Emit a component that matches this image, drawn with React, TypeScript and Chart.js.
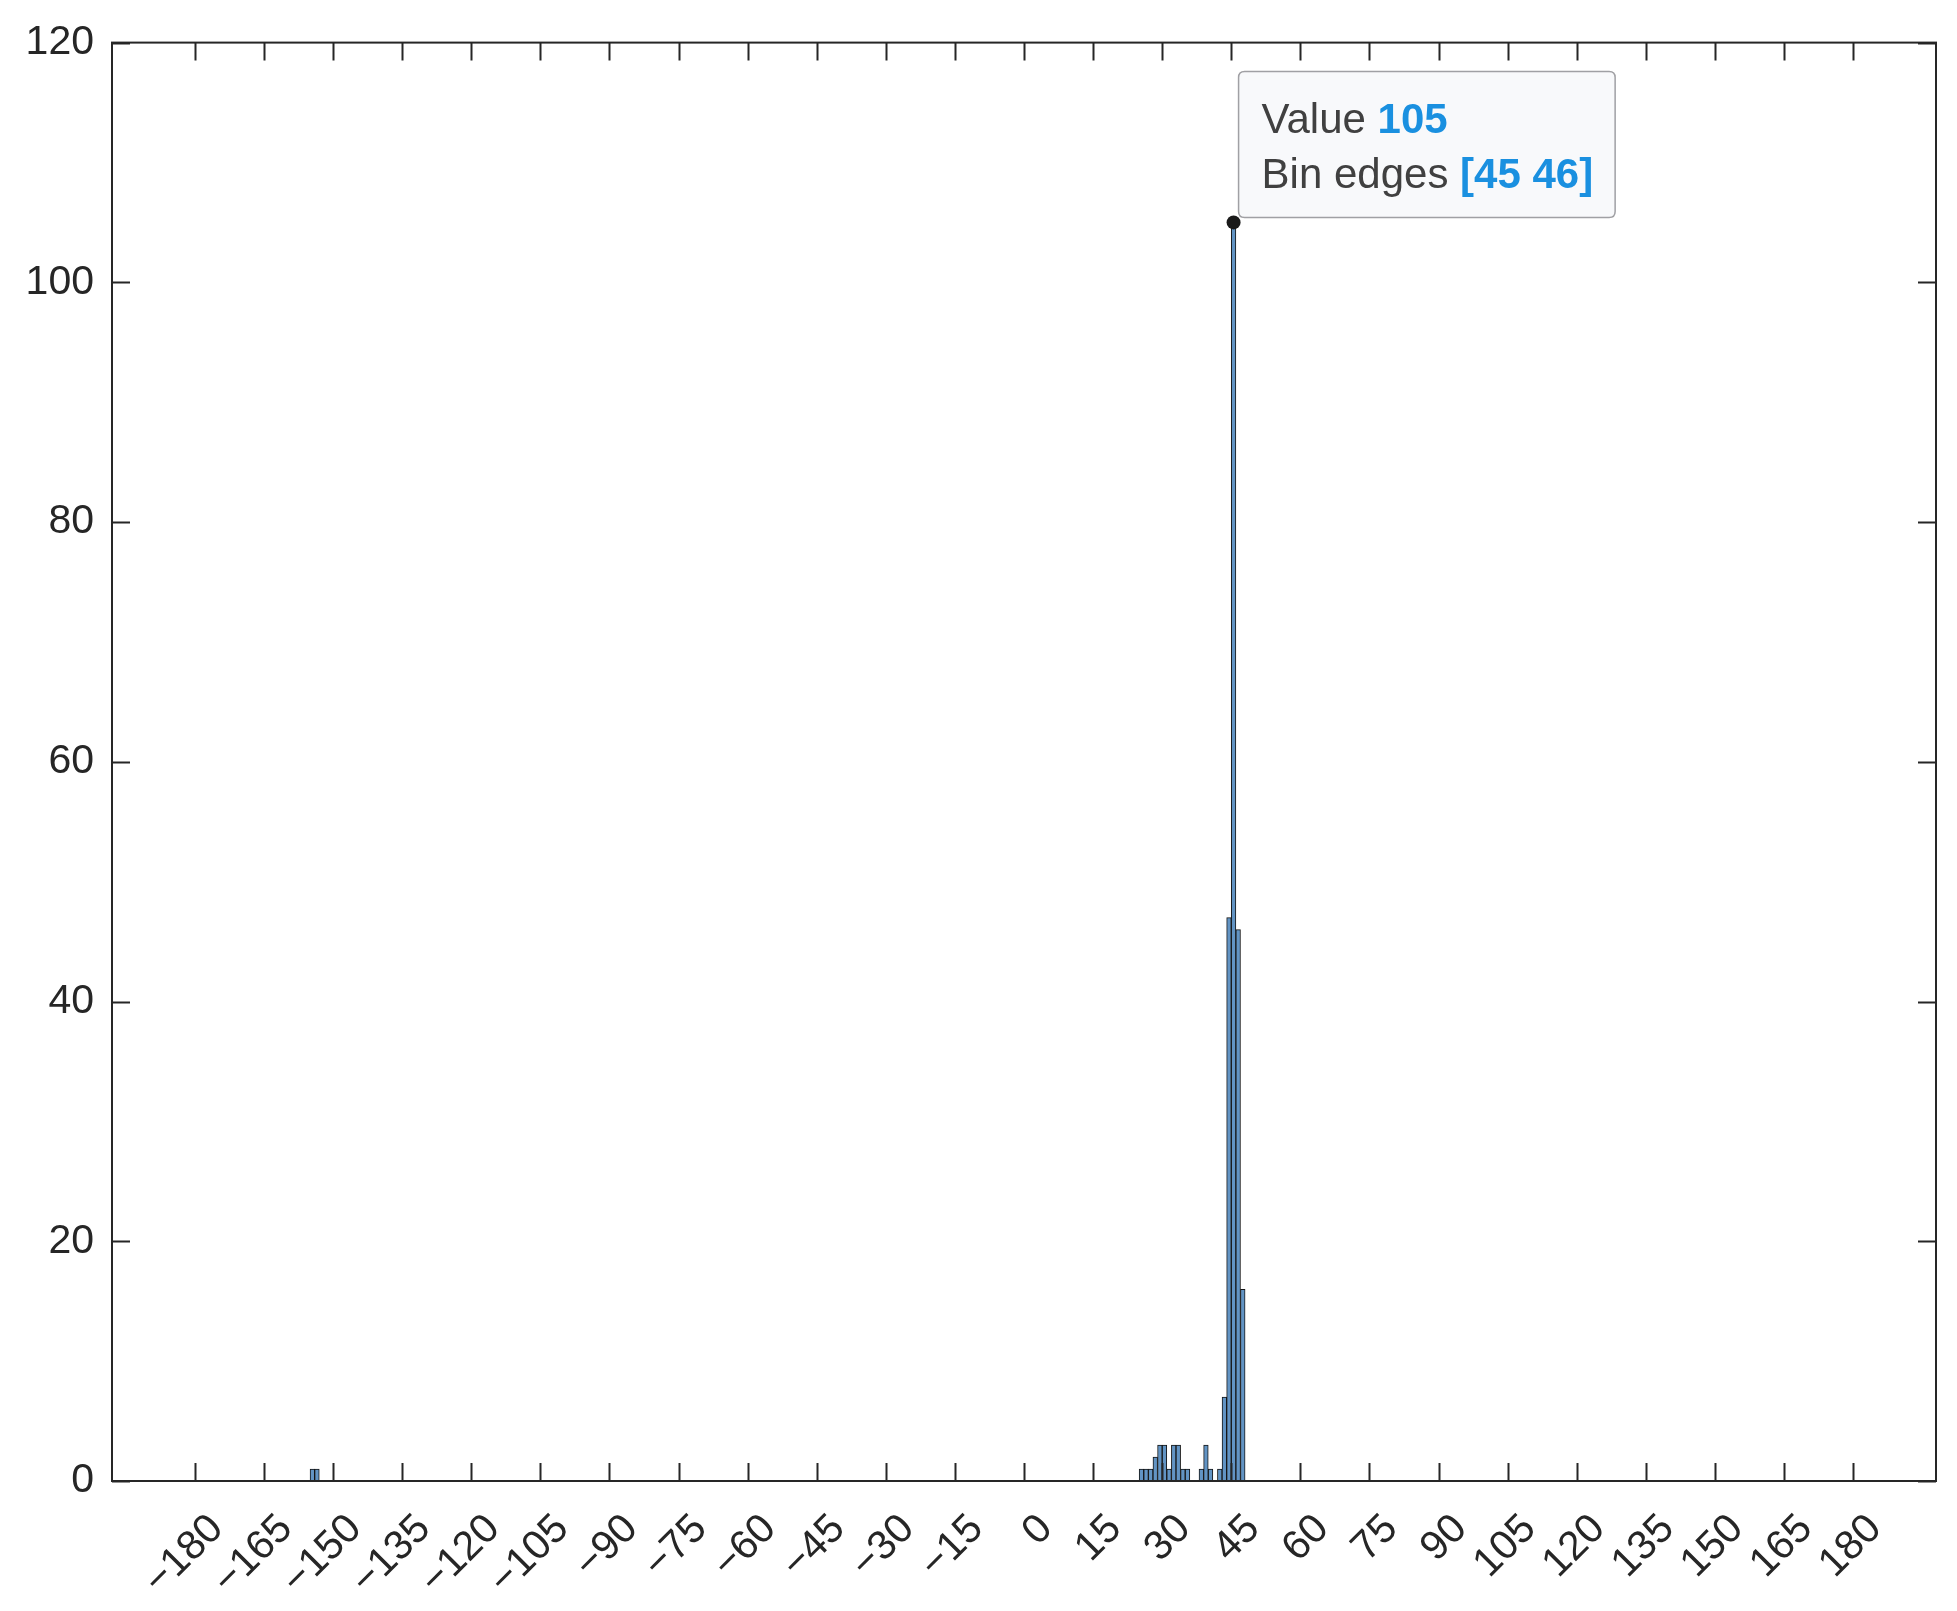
import React, { useEffect, useRef } from "react";
import { Chart, registerables } from "chart.js";

Chart.register(...registerables);

// Histogram bins (lower edge) and their counts (bin width 1)
const binStart = [-155, -154, 25, 26, 27, 28, 29, 30, 31, 32, 33, 34, 35, 38, 39, 40, 42, 43, 44, 45, 46, 47];
const binCount = [1, 1, 1, 1, 1, 2, 3, 3, 1, 3, 3, 1, 1, 1, 3, 1, 1, 7, 47, 105, 46, 16];
const binWidth = 1;

const xTicks = [-180, -165, -150, -135, -120, -105, -90, -75, -60, -45, -30, -15, 0, 15, 30, 45, 60, 75, 90, 105, 120, 135, 150, 165, 180];
const yTicks = [0, 20, 40, 60, 80, 100, 120];
const xRange = [-198, 198];
const yRange = [0, 120];

// Data tip
const tipValue = 105;
const tipEdges = [45, 46];

const FONT = "'Liberation Sans', Arial, Helvetica, sans-serif";
const AXIS_COLOR = "#262626";

const fmt = (v: number) => (v < 0 ? "\u2212" + Math.abs(v) : String(v));

const boxAndTicksPlugin = {
  id: "boxAndTicks",
  afterDraw(chart: any) {
    const { ctx, chartArea } = chart;
    const { left, right, top, bottom } = chartArea;
    const xs = chart.scales.x;
    const ys = chart.scales.y;
    const tl = 18;
    ctx.save();
    ctx.strokeStyle = AXIS_COLOR;
    ctx.lineWidth = 2;
    ctx.beginPath();
    xTicks.forEach((v) => {
      const px = Math.round(xs.getPixelForValue(v)) + 0.5;
      ctx.moveTo(px, bottom);
      ctx.lineTo(px, bottom - tl);
      ctx.moveTo(px, top);
      ctx.lineTo(px, top + tl);
    });
    yTicks.forEach((v) => {
      const py = Math.round(ys.getPixelForValue(v)) + 0.5;
      ctx.moveTo(left, py);
      ctx.lineTo(left + tl, py);
      ctx.moveTo(right, py);
      ctx.lineTo(right - tl, py);
    });
    ctx.stroke();
    ctx.lineWidth = 2;
    ctx.strokeRect(left, top, right - left, bottom - top);
    ctx.restore();
  },
};

const dataTipPlugin = {
  id: "dataTip",
  afterDraw(chart: any) {
    const { ctx } = chart;
    const xs = chart.scales.x;
    const ys = chart.scales.y;
    const px = xs.getPixelForValue((tipEdges[0] + tipEdges[1]) / 2);
    const py = ys.getPixelForValue(tipValue);
    const fs = 42;
    ctx.save();
    const reg = `${fs}px ${FONT}`;
    const bold = `bold ${fs}px ${FONT}`;
    const l1a = "Value ";
    const l1b = String(tipValue);
    const l2a = "Bin edges ";
    const l2b = `[${tipEdges[0]} ${tipEdges[1]}]`;
    ctx.font = reg;
    const w1a = ctx.measureText(l1a).width;
    const w2a = ctx.measureText(l2a).width;
    ctx.font = bold;
    const w1b = ctx.measureText(l1b).width;
    const w2b = ctx.measureText(l2b).width;
    const textW = Math.max(w1a + w1b, w2a + w2b);
    const padL = 23;
    const padR = 22;
    const boxW = textW + padL + padR;
    const boxH = 146;
    const bx = px + 5;
    const by = py - 5 - boxH;
    const r = 6;
    ctx.beginPath();
    ctx.moveTo(bx + r, by);
    ctx.lineTo(bx + boxW - r, by);
    ctx.quadraticCurveTo(bx + boxW, by, bx + boxW, by + r);
    ctx.lineTo(bx + boxW, by + boxH - r);
    ctx.quadraticCurveTo(bx + boxW, by + boxH, bx + boxW - r, by + boxH);
    ctx.lineTo(bx + r, by + boxH);
    ctx.quadraticCurveTo(bx, by + boxH, bx, by + boxH - r);
    ctx.lineTo(bx, by + r);
    ctx.quadraticCurveTo(bx, by, bx + r, by);
    ctx.closePath();
    ctx.fillStyle = "#f8f9fb";
    ctx.fill();
    ctx.strokeStyle = "#a0a0a4";
    ctx.lineWidth = 1.5;
    ctx.stroke();

    ctx.textBaseline = "alphabetic";
    ctx.textAlign = "left";
    const tx = bx + padL;
    ctx.font = reg;
    ctx.fillStyle = "#404040";
    ctx.fillText(l1a, tx, by + 62);
    ctx.fillText(l2a, tx, by + 117);
    ctx.font = bold;
    ctx.fillStyle = "#1a90e0";
    ctx.fillText(l1b, tx + w1a, by + 62);
    ctx.fillText(l2b, tx + w2a, by + 117);

    ctx.beginPath();
    ctx.arc(px, py, 7, 0, Math.PI * 2);
    ctx.fillStyle = "#1a1a1a";
    ctx.fill();
    ctx.restore();
  },
};

export default function App() {
  const ref = useRef<HTMLCanvasElement | null>(null);
  useEffect(() => {
    if (!ref.current) return;
    const data = binStart.map((s, i) => ({ x: s + binWidth / 2, y: binCount[i] }));
    const chart = new Chart(ref.current, {
      type: "bar",
      data: {
        datasets: [
          {
            data: data as any,
            backgroundColor: "rgb(98,148,196)",
            borderColor: "#151515",
            borderWidth: 1,
            borderSkipped: false,
            barPercentage: 1,
            categoryPercentage: 1,
          },
        ],
      },
      options: {
        responsive: false,
        animation: false,
        devicePixelRatio: 1,
        layout: { padding: { left: 0, right: 21, top: 42, bottom: 0 } },
        plugins: { legend: { display: false }, tooltip: { enabled: false } },
        scales: {
          x: {
            type: "linear",
            min: xRange[0],
            max: xRange[1],
            offset: false,
            grid: { display: false, drawTicks: false },
            border: { display: false },
            afterBuildTicks: (scale: any) => {
              scale.ticks = xTicks.map((v) => ({ value: v }));
            },
            afterFit: (scale: any) => {
              scale.height = 130;
            },
            ticks: {
              autoSkip: false,
              maxRotation: 45,
              minRotation: 45,
              padding: 24,
              labelOffset: 22,
              color: AXIS_COLOR,
              font: { family: FONT, size: 41 },
              callback: (v: any) => fmt(Number(v)),
            },
          },
          y: {
            min: yRange[0],
            max: yRange[1],
            grid: { display: false, drawTicks: false },
            border: { display: false },
            afterBuildTicks: (scale: any) => {
              scale.ticks = yTicks.map((v) => ({ value: v }));
            },
            afterFit: (scale: any) => {
              scale.width = 112;
            },
            ticks: {
              padding: 18,
              color: AXIS_COLOR,
              font: { family: FONT, size: 41 },
              callback: (v: any) => fmt(Number(v)),
            },
          },
        },
      },
      plugins: [boxAndTicksPlugin, dataTipPlugin],
    });
    return () => chart.destroy();
  }, []);
  return (
    <div style={{ position: "absolute", left: 0, top: 0, width: 1957, height: 1611, background: "#fff" }}>
      <canvas ref={ref} width={1957} height={1611} style={{ display: "block" }} />
    </div>
  );
}
